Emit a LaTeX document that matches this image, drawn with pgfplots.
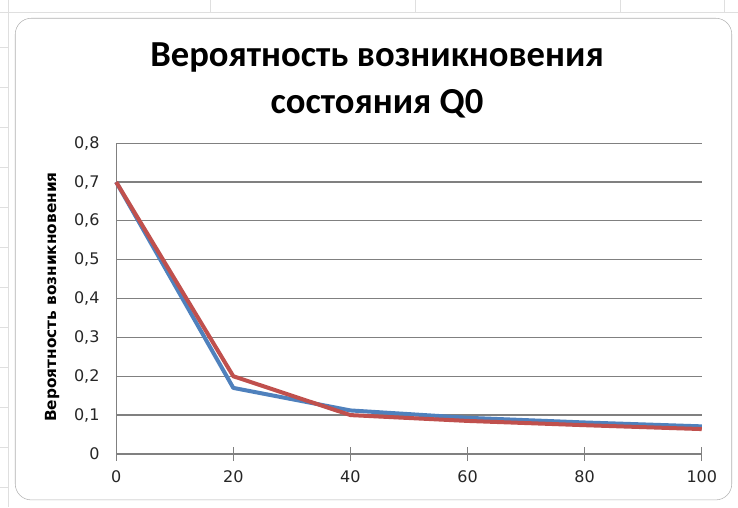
\documentclass[border=0pt]{standalone}
\usepackage{pgfplots}
\pgfplotsset{compat=1.18}
\usepackage{fontspec}
\setmainfont{DejaVu Sans}
\newfontfamily\titlefont{Carlito}
\begin{document}
\begin{tikzpicture}[x=0.75pt,y=0.75pt]
% page area
\path (0,0) rectangle (738,507);
% sheet grid behind the chart
\draw[gray!25] (0,495) -- (738,495);
\foreach \gx in {8,210,415,620,725} \draw[gray!25] (\gx,495) -- (\gx,507);
\draw[gray!25] (8,0) -- (8,507);
\foreach \gy in {20,60,100,140,180,220,260,300,340,380,420,460} \draw[gray!25] (0,\gy) -- (8,\gy);
% chart area
\draw[gray!60, rounded corners=12pt, fill=white] (15,7) rectangle (732,489);
\begin{axis}[
  at={(87pt,39.75pt)}, anchor=origin,
  scale only axis,
  width=439.5pt, height=233.25pt,
  xmin=0, xmax=100, ymin=0, ymax=0.8,
  xtick={0,20,40,60,80,100},
  ytick={0,0.1,0.2,0.3,0.4,0.5,0.6,0.7,0.8},
  yticklabels={0,{0,1},{0,2},{0,3},{0,4},{0,5},{0,6},{0,7},{0,8}},
  xticklabels={0,20,40,60,80,100},
  axis x line*=bottom, axis y line*=left,
  axis line style={black!50, line width=0.9pt, -},
  ymajorgrids, grid style={black!50, line width=0.9pt},
  tick style={black!50, line width=0.9pt},
  xtick align=center, major tick length=10pt,
  ytick style={draw=none},
  ticklabel style={font=\fontsize{12}{14}\selectfont, text=black!85},
  yticklabel style={xshift=-9pt},
  xticklabel style={yshift=-4pt},
  clip=false,
]
\addplot[color={rgb,255:red,79;green,129;blue,189}, line width=3pt, line join=round]
  coordinates {(0,0.700) (20,0.170) (40,0.112) (60,0.093) (80,0.081) (100,0.071)};
\addplot[color={rgb,255:red,192;green,80;blue,77}, line width=3pt, line join=round]
  coordinates {(0,0.700) (20,0.200) (40,0.100) (60,0.085) (80,0.074) (100,0.064)};
\end{axis}
% title
\node[font=\titlefont\bfseries\fontsize{27.5}{33}\selectfont] at (377,450) {Вероятность возникновения};
\node[font=\titlefont\bfseries\fontsize{27.5}{33}\selectfont] at (377,403) {состояния Q0};
% y axis title
\node[rotate=90, font=\bfseries\fontsize{11.5}{13}\selectfont] at (52,210) {Вероятность возникновения};
\end{tikzpicture}
\end{document}
